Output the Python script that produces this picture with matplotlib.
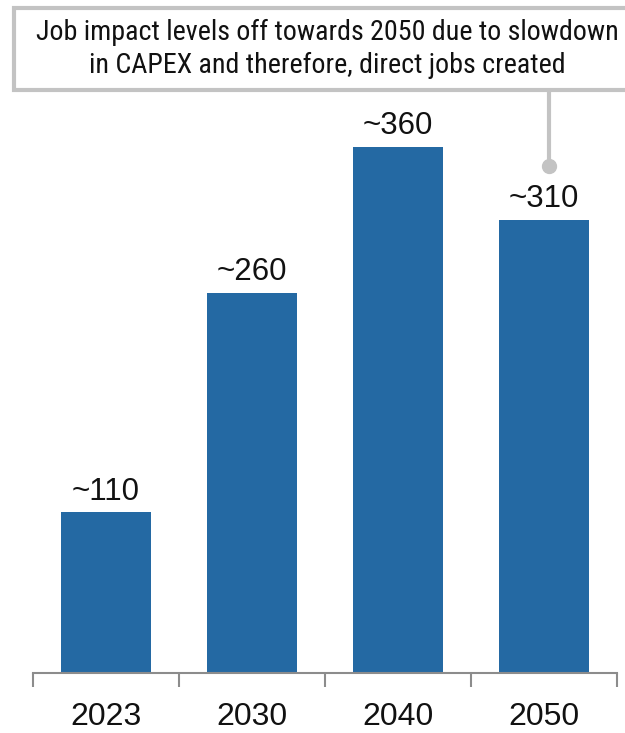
import matplotlib
matplotlib.use("Agg")
import matplotlib.pyplot as plt
from matplotlib.patches import Rectangle
from matplotlib import font_manager as fm

categories = ["2023", "2030", "2040", "2050"]
values = [110, 260, 360, 310]
labels = ["~110", "~260", "~360", "~310"]
note = "Job impact levels off towards 2050 due to slowdown\nin CAPEX and therefore, direct jobs created"

names = {f.name for f in fm.fontManager.ttflist}
narrow = "Roboto"
for cand in ["Roboto Condensed", "Liberation Sans Narrow", "Open Sans Condensed"]:
    if cand in names:
        narrow = cand
        break
note_size = 18 if narrow == "Roboto" else 20.2

W, H = 625, 733
fig = plt.figure(figsize=(W/100, H/100), dpi=100)
px = 1.4625  # pixels per unit
ax_bottom = H - 673
ax_top = 100
ax_h = (H - ax_top) - ax_bottom
ax = fig.add_axes([33/W, ax_bottom/H, (617-33)/W, ax_h/H])
ax.set_ylim(0, ax_h/px)
ax.set_xlim(-0.5, 3.5)

x = list(range(len(categories)))
ax.bar(x, values, width=0.616, color="#2469a3")
for xi, v, lab in zip(x, values, labels):
    ax.annotate(lab, (xi, v), xytext=(0, 4), textcoords="offset points",
                ha="center", va="bottom", fontsize=22.5, family="Liberation Sans", color="#111111")

for s in ["top", "right", "left"]:
    ax.spines[s].set_visible(False)
ax.spines["bottom"].set_color("#8c8c8c")
ax.spines["bottom"].set_linewidth(1.5)
ax.set_yticks([])
ax.set_xticks([-0.5, 0.5, 1.5, 2.5, 3.5])
ax.set_xticklabels([])
ax.set_xticks(x, minor=True)
ax.set_xticklabels(categories, minor=True, fontsize=23, family="Liberation Sans", color="#111111")
ax.tick_params(axis="x", which="major", length=10, width=1.5, color="#8c8c8c", direction="out")
ax.tick_params(axis="x", which="minor", length=0, pad=21)

# annotation box and connector (figure pixel coords)
def fx(p): return p / W
def fy(p): return 1 - p / H
fig.patches.append(Rectangle((fx(14), fy(90)), fx(640-14), (90-8)/H, transform=fig.transFigure,
                             facecolor="white", edgecolor="#c3c3c3", linewidth=3, zorder=5))
fig.text(fx(327), fy(49), note, ha="center", va="center", fontsize=note_size, family=narrow,
         color="#111111", linespacing=1.3, zorder=6)
fig.lines.append(plt.Line2D([fx(549), fx(549)], [fy(92), fy(166)], transform=fig.transFigure,
                            color="#c3c3c3", linewidth=3, zorder=4))
fig.lines.append(plt.Line2D([fx(549)], [fy(166)], transform=fig.transFigure, marker="o",
                            markersize=10, color="#c3c3c3", zorder=4))

fig.savefig("out.png", dpi=100)
